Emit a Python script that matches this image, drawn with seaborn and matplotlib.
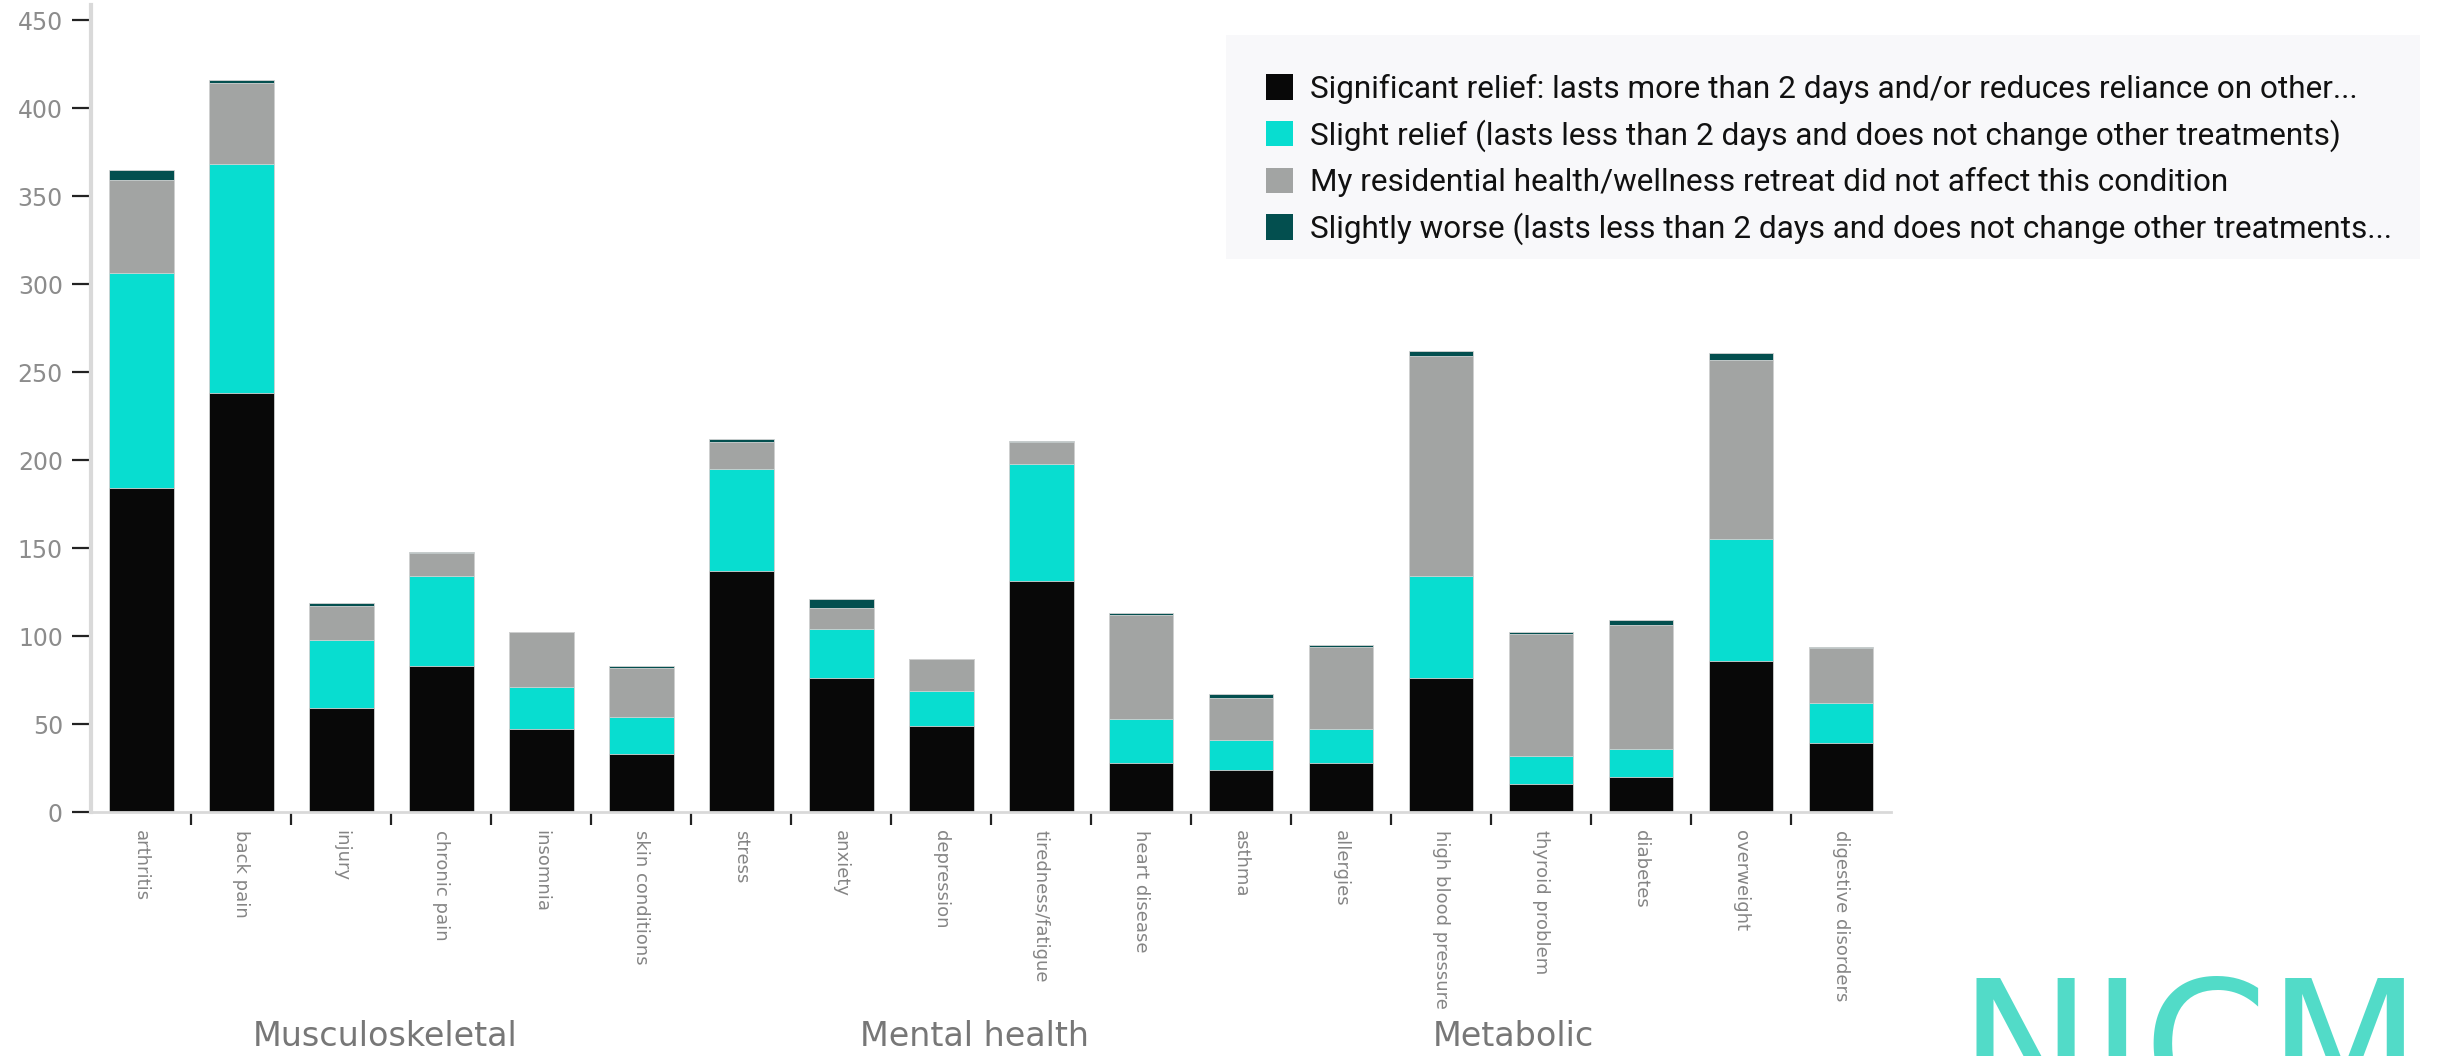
import matplotlib
matplotlib.use("Agg")
import matplotlib.pyplot as plt
from matplotlib.patches import Patch, Rectangle
import numpy as np
import pandas as pd
import seaborn as sns

# ---------------- data ----------------
conditions = ["arthritis", "back pain", "injury", "chronic pain", "insomnia",
              "skin conditions", "stress", "anxiety", "depression",
              "tiredness/fatigue", "heart disease", "asthma", "allergies",
              "high blood pressure", "thyroid problem", "diabetes",
              "overweight", "digestive disorders"]
significant_relief = [184, 238, 59, 83, 47, 33, 137, 76, 49, 131, 28, 24, 28, 76, 16, 20, 86, 39]
slight_relief      = [122, 130, 39, 51, 24, 21, 58, 28, 20, 67, 25, 17, 19, 58, 16, 16, 69, 23]
no_effect          = [53, 46, 19, 13, 31, 28, 15, 12, 18, 12, 59, 24, 47, 125, 69, 70, 102, 31]
slightly_worse     = [6, 2, 2, 1, 0, 1, 2, 5, 0, 1, 1, 2, 1, 3, 1, 3, 4, 1]

series_labels = [
    "Significant relief: lasts more than 2 days and/or reduces reliance on other...",
    "Slight relief (lasts less than 2 days and does not change other treatments)",
    "My residential health/wellness retreat did not affect this condition",
    "Slightly worse (lasts less than 2 days and does not change other treatments...",
]
group_labels = ["Musculoskeletal", "Mental health", "Metabolic"]
y_ticks = [0, 50, 100, 150, 200, 250, 300, 350, 400, 450]

colors = ["#080808", "#08DDD0", "#A2A4A3", "#034F4F"]

sns.set_theme(style="white")
plt.rcParams["font.family"] = ["DejaVu Sans"]

W, H = 2437, 1056
fig = plt.figure(figsize=(W / 100, H / 100), dpi=100)
ax_left, ax_right, ax_bottom, ax_top = 91, 1891, 812, 5
ax = fig.add_axes([ax_left / W, 1 - ax_bottom / H, (ax_right - ax_left) / W,
                   (ax_bottom - ax_top) / H])
ax.patch.set_facecolor("none")

df = pd.DataFrame({
    "condition": conditions,
    "s1": significant_relief,
    "s2": slight_relief,
    "s3": no_effect,
    "s4": slightly_worse,
})
df["c1"] = df["s1"]
df["c2"] = df["c1"] + df["s2"]
df["c3"] = df["c2"] + df["s3"]
df["c4"] = df["c3"] + df["s4"]

# layered cumulative bars (tallest first) -> stacked look
for col, color in zip(["c4", "c3", "c2", "c1"], colors[::-1]):
    sns.barplot(data=df, x="condition", y=col, order=conditions, color=color,
                width=0.65, edgecolor="#d4d4d4", linewidth=0.6, saturation=1,
                ax=ax, errorbar=None)

px_per_unit = 88 / 50
ax.set_ylim(0, (ax_bottom - ax_top) / px_per_unit)
ax.set_xlim(-0.5, len(conditions) - 0.5)
ax.set_xlabel("")
ax.set_ylabel("")

# spines
for s in ["top", "right"]:
    ax.spines[s].set_visible(False)
ax.spines["left"].set_color("#d9d9d9")
ax.spines["left"].set_linewidth(3)
ax.spines["bottom"].set_color("#d9d9d9")
ax.spines["bottom"].set_linewidth(2)

# y ticks
ax.set_yticks(y_ticks)
ax.set_yticklabels([str(v) for v in y_ticks])
ax.tick_params(axis="y", which="major", length=13.7, width=1.6, color="#222222",
               labelsize=17, labelcolor="#8c8c8c", pad=6.5, left=True)

# x ticks: labels at centers, dark tick marks at boundaries
ax.set_xticks(range(len(conditions)))
ax.set_xticklabels(conditions, rotation=-90, ha="center", va="top")
ax.set_xticks(np.arange(0.5, len(conditions) - 1, 1.0), minor=True)
ax.tick_params(axis="x", which="major", length=0, pad=13, labelcolor="#858585",
               labelsize=13, bottom=True)
ax.tick_params(axis="x", which="minor", length=9.4, width=1.6, color="#222222",
               bottom=True)

# legend background box
fig.add_artist(Rectangle((1226 / W, 1 - 259 / H), (2420 - 1226) / W, (259 - 35) / H,
                         transform=fig.transFigure, facecolor="#f8f8fa",
                         edgecolor="none", zorder=-1))
handles = [Patch(facecolor=c, edgecolor="none") for c in colors]
leg = fig.legend(handles, series_labels, loc="upper left",
                 bbox_to_anchor=(1266 / W, 1 - 74 / H), frameon=False,
                 prop={"family": ["Roboto", "DejaVu Sans"], "size": 22.7},
                 handlelength=0.86, handleheight=0.86,
                 handletextpad=0.52, labelspacing=0.485, borderaxespad=0,
                 borderpad=0)
for t in leg.get_texts():
    t.set_color("#111111")

# group labels
for txt, xc in zip(group_labels, [385, 974, 1513]):
    fig.text(xc / W, 1 - 1036 / H, txt, ha="center", va="center",
             fontsize=24, color="#777777")

# logo text (cut off by the bottom edge, as in the reference)
fig.text(1958 / W, 1 - 1108 / H, "NICM", ha="left", va="baseline",
         fontsize=128, color="#52DBC8", family="DejaVu Sans")

fig.savefig("out.png", dpi=100)
